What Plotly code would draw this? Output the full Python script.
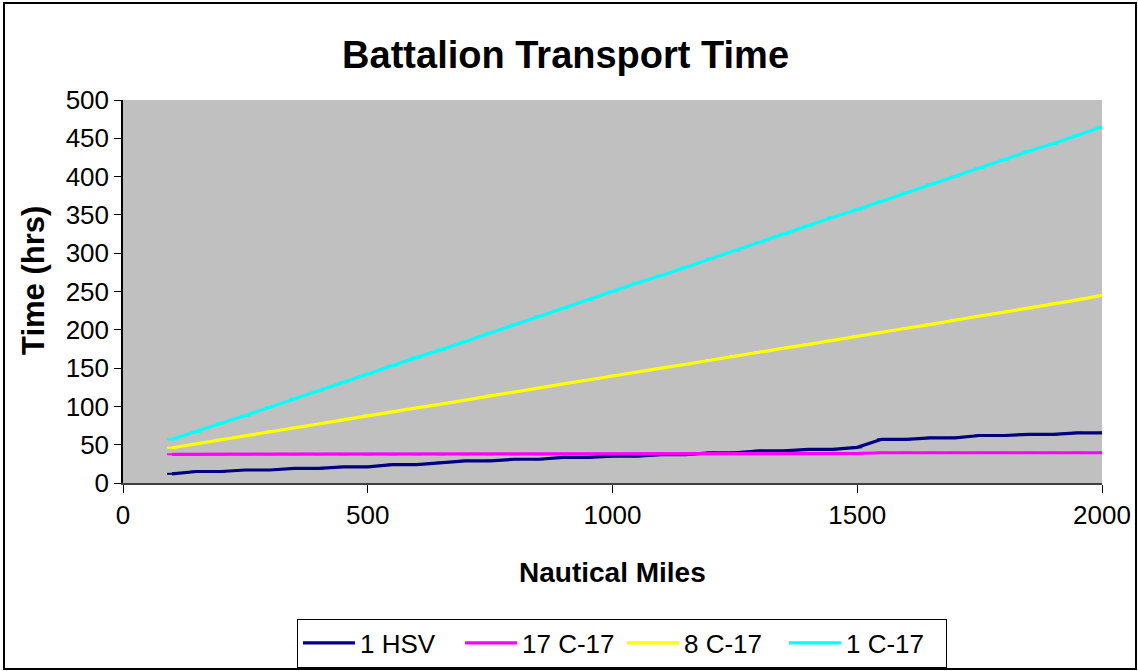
import plotly.graph_objects as go

miles = [100, 150, 200, 250, 300, 350, 400, 450, 500, 550, 600, 650, 700, 750, 800,
         850, 900, 950, 1000, 1050, 1100, 1150, 1200, 1250, 1300, 1350, 1400, 1450,
         1500, 1550, 1600, 1650, 1700, 1750, 1800, 1850, 1900, 1950, 2000]

hsv_1 = [12, 15, 15, 17, 17, 19, 19, 21, 21, 24, 24, 26.5, 29, 29, 31, 31, 33.5, 33.5,
         35, 35, 37, 37, 39.5, 39.5, 42, 42, 44, 44, 46.5, 57, 57, 59, 59, 62, 62,
         63.5, 63.5, 65.5, 65.5]

c17_17 = [37.5, 37.5, 37.5, 37.5, 37.5, 37.5, 37.5, 37.5, 37.5, 37.5, 37.5, 37.5, 37.5,
          37.5, 37.5, 37.5, 37.5, 37.5, 37.5, 37.5, 38.5, 38.5, 38.5, 38.5, 38.5, 38.5,
          38.5, 38.5, 38.5, 39.5, 39.5, 39.5, 39.5, 39.5, 39.5, 39.5, 39.5, 39.5, 39.5]

c17_8 = [46, 51, 56.5, 61.5, 67, 72, 77, 82.5, 88, 93, 98, 103, 108.5, 114, 119, 124,
         129.5, 134.5, 140, 145, 150, 155, 160.5, 166, 171, 176, 181, 186.5, 192, 197,
         202, 207, 213, 218, 223, 228, 234, 239, 245]

c17_1 = [57, 67, 78, 88, 99, 110, 120, 131, 142, 153, 164, 174, 185, 196, 207, 218, 228,
         239, 250, 261, 271, 282, 293, 303, 314, 325, 336, 347, 357, 368, 379, 390, 400,
         411, 422, 433, 443, 454, 465]

series_names = ["1 HSV", "17 C-17", "8 C-17", "1 C-17"]
series_values = [hsv_1, c17_17, c17_8, c17_1]
series_colors = ["#000080", "#FF00FF", "#FFFF00", "#00FFFF"]

x_ticks = [0, 500, 1000, 1500, 2000]
y_ticks = list(range(0, 501, 50))

FONT = "Liberation Sans, Arial, sans-serif"

fig = go.Figure()
for name, vals, col in zip(series_names, series_values, series_colors):
    fig.add_trace(go.Scatter(
        x=miles, y=vals, name=name, mode="lines+markers",
        line=dict(color=col, width=3.2),
        marker=dict(symbol="line-ew", size=7, line=dict(color=col, width=2), color=col),
    ))

W, H = 1138, 671
L, R, T, B = 123, 36, 100, 188
pw, ph = W - L - R, H - T - B

def px_x(p):
    return (p - L) / pw

def px_y(p):
    return (H - B - p) / ph

fig.update_layout(
    width=W, height=H,
    margin=dict(l=L, r=R, t=T, b=B, autoexpand=False),
    paper_bgcolor="white",
    plot_bgcolor="#C0C0C0",
    font=dict(family=FONT, color="black", size=26),
    title=dict(text="<b>Battalion Transport Time</b>", x=0.497, xref="container",
               y=1 - 55 / H, yref="container", xanchor="center", yanchor="middle",
               font=dict(size=38, family=FONT, color="black")),
    xaxis=dict(range=[0, 2000], tickvals=x_ticks, ticks="outside", ticklen=8,
               tickcolor="black", showline=True, linecolor="#404040", linewidth=1.5,
               showgrid=False, zeroline=False, automargin=False,
               tickfont=dict(size=26, family=FONT)),
    yaxis=dict(range=[0, 500], tickvals=y_ticks, ticks="outside", ticklen=7,
               tickcolor="black", showline=True, linecolor="black", linewidth=1.5,
               showgrid=False, zeroline=False, automargin=False,
               tickfont=dict(size=26, family=FONT)),
    showlegend=True,
    legend=dict(orientation="h", x=px_x(622), y=px_y(643), xanchor="center",
                yanchor="middle", bgcolor="white", bordercolor="black", borderwidth=1,
                font=dict(size=26, family=FONT), tracegroupgap=0, itemwidth=52,
                entrywidth=95),
    annotations=[
        dict(text="<b>Nautical Miles</b>", x=px_x(612), y=px_y(572), xref="paper", yref="paper",
             showarrow=False, xanchor="center", yanchor="middle",
             font=dict(size=28, family=FONT)),
        dict(text="<b>Time (hrs)</b>", x=px_x(33), y=px_y(281), xref="paper", yref="paper",
             showarrow=False, xanchor="center", yanchor="middle", textangle=-90,
             font=dict(size=31, family=FONT)),
    ],
    shapes=[
        dict(type="rect", xref="paper", yref="paper",
             x0=px_x(4), x1=px_x(1136), y0=px_y(669), y1=px_y(3),
             line=dict(color="black", width=2), fillcolor="rgba(0,0,0,0)", layer="below"),
    ],
)

fig.write_html("out.html", config={"displayModeBar": False},
               post_script="document.body.style.margin='0';")
